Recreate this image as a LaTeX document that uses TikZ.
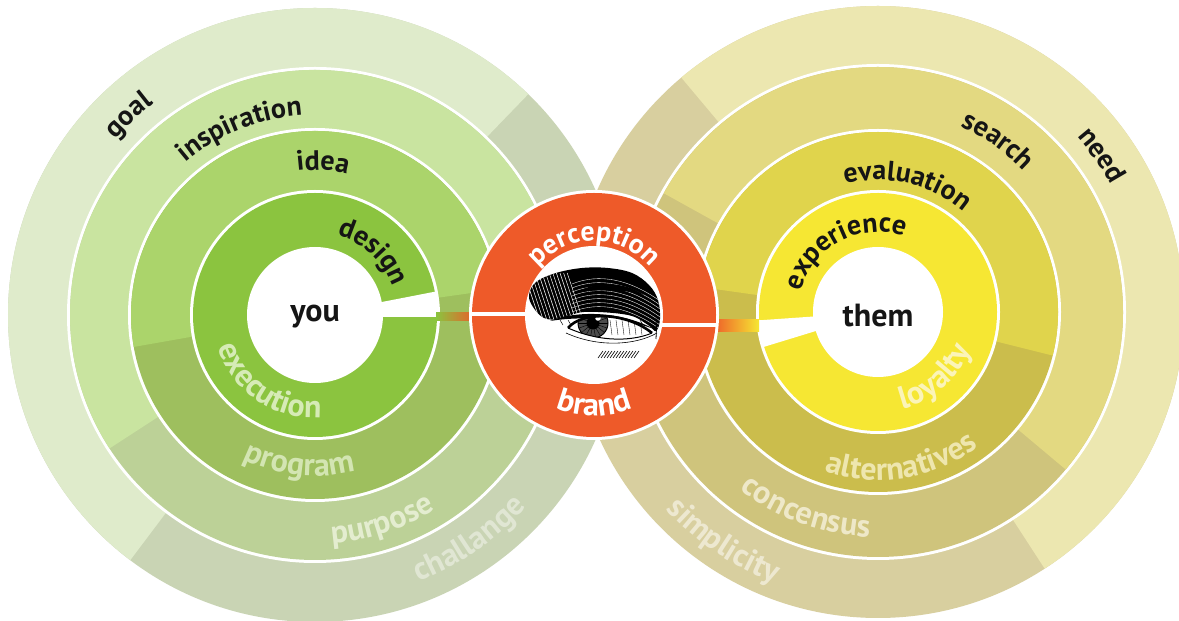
\documentclass[tikz,border=0pt]{standalone}
\usepackage{fontspec}
\setmainfont{PT Sans}
\usetikzlibrary{decorations.text,calc}

% ring colours, green system
\definecolor{gGoalL}{HTML}{DFEBCB}
\definecolor{gGoalD}{HTML}{C9D4B4}
\definecolor{gInspL}{HTML}{C9E4A0}
\definecolor{gInspD}{HTML}{BCD197}
\definecolor{gIdeaL}{HTML}{ABD46B}
\definecolor{gIdeaD}{HTML}{9EBF5E}
\definecolor{gCore}{HTML}{8BC43F}
% ring colours, yellow system
\definecolor{yNeedL}{HTML}{ECE7B0}
\definecolor{yNeedD}{HTML}{D8CF9F}
\definecolor{ySearchL}{HTML}{E3D981}
\definecolor{ySearchD}{HTML}{CFC47C}
\definecolor{yEvalL}{HTML}{E0D44C}
\definecolor{yEvalD}{HTML}{CBBD4C}
\definecolor{yCore}{HTML}{F6E733}
\definecolor{brandOrange}{HTML}{EE5A29}
\definecolor{inkBlack}{HTML}{151515}
% pale label colours on the darker sectors
\definecolor{tExec}{HTML}{D6EBB6}
\definecolor{tProg}{HTML}{D3E5B2}
\definecolor{tPurp}{HTML}{E4EDD0}
\definecolor{tChal}{HTML}{E0E6D3}
\definecolor{tLoy}{HTML}{FBF4B8}
\definecolor{tAlt}{HTML}{EEE6AE}
\definecolor{tCons}{HTML}{EEE8C8}
\definecolor{tSimp}{HTML}{EDE8D0}

\newcommand\topfont{\bfseries\fontsize{28}{28}\selectfont}
\newcommand\botfont{\bfseries\fontsize{32}{32}\selectfont}
% pie slice: colour, centre, start angle, end angle, radius
\newcommand\pieslice[5]{\fill[#1] (#2) -- ++(#3:#5) arc[start angle=#3,end angle=#4,radius=#5] -- cycle;}
% text on the upper side of a circle, read clockwise
\newcommand\toplabel[5]{\path[decorate,decoration={text along path,text align=center,text color=#4,text={|\topfont|#5}}]
  ($(#1)+({#2+80}:#3)$) arc[start angle={#2+80},end angle={#2-80},radius=#3];}
% text on the lower side of a circle, read counter-clockwise
\newcommand\botlabel[5]{\path[decorate,decoration={text along path,text align=center,text color=#4,text={|\botfont|#5}}]
  ($(#1)+({#2-80}:#3)$) arc[start angle={#2-80},end angle={#2+80},radius=#3];}

\begin{document}
\begin{tikzpicture}[x=1pt,y=1pt,
  centre/.style={font=\bfseries\fontsize{32}{32}\selectfont,text=inkBlack,inner sep=0pt}]
\useasboundingbox (0,0) rectangle (1179,621);
\fill[white] (0,0) rectangle (1179,621);

\coordinate (L) at (315,306);
\coordinate (R) at (878,309);
\coordinate (C) at (594,306);

% ---------- green system ----------
\fill[gGoalD] (L) circle[radius=307];
\pieslice{gGoalL}{L}{46}{233}{307}
\fill[white] (L) circle[radius=248];
\fill[gInspD] (L) circle[radius=245];
\pieslice{gInspL}{L}{21}{213}{245}
\fill[white] (L) circle[radius=187];
\fill[gIdeaD] (L) circle[radius=184];
\pieslice{gIdeaL}{L}{8}{190}{184}
\fill[white] (L) circle[radius=125];
\fill[gCore] (L) circle[radius=122];
\fill[white] (L) circle[radius=68];
\pieslice{white}{L}{0}{11}{123}
\fill[white] ($(L)+(60,-2)$) rectangle ($(L)+(124,2.5)$);

% ---------- yellow system ----------
\fill[yNeedD] (R) circle[radius=306];
\pieslice{yNeedL}{R}{-57}{130}{306}
\fill[white] (R) circle[radius=248];
\fill[ySearchD] (R) circle[radius=245];
\pieslice{ySearchL}{R}{-40}{151}{245}
\fill[white] (R) circle[radius=183];
\fill[yEvalD] (R) circle[radius=180];
\pieslice{yEvalL}{R}{-14}{172}{180}
\fill[white] (R) circle[radius=122];
\fill[yCore] (R) circle[radius=119];
\fill[white] (R) circle[radius=65];
\pieslice{white}{R}{184}{197}{120}
\fill[white] ($(R)+(-122,-12)$) rectangle ($(R)+(-55,-8)$);

% ---------- links between the systems ----------
\shade[left color=gCore,right color=brandOrange] ($(L)+(121,-5.5)$) rectangle ($(C)+(-118,2.5)$);
\shade[left color=brandOrange,right color=yCore] ($(C)+(118,-16.5)$) rectangle ($(R)+(-119,-8)$);

% ---------- brand ring ----------
\fill[white] (C) circle[radius=125];
\fill[brandOrange] (C) circle[radius=122];
\fill[white] (C) circle[radius=69];
\fill[white] ($(C)+(-123,2.5)$) rectangle ($(C)+(-60,-1.5)$);
\fill[white] ($(C)+(60,-8)$) rectangle ($(C)+(123,-12)$);

% ---------- engraved eye ----------
\begin{scope}[shift={(C)}]
  \def\browpath{plot[smooth cycle,tension=0.6] coordinates {
    (-65,20) (-58,33) (-38,42) (-12,47) (14,47) (38,42) (55,30) (64,15)
    (66,-4) (62,-16) (54,-10) (34,0) (-10,3) (-34,-4) (-50,-3) (-61,8)}}
  % brow mass
  \fill[black] \browpath;
  % fine white engraving strokes in the brow
  \begin{scope}
    \clip \browpath;
    \foreach \k in {0,...,12}
      \draw[white,line width=0.5pt] (-70+3.6*\k,42) -- (-54+3.6*\k,-6);
    \foreach \k in {0,...,7}
      \draw[white,line width=0.35pt] (-22,{31-4*\k}) .. controls (5,{42-4*\k}) and (35,{36-4*\k}) .. (66,{14-4*\k});
    \fill[black] (-18,22) .. controls (0,34) and (30,34) .. (50,20)
                 .. controls (30,26) and (0,26) .. (-18,22) -- cycle;
  \end{scope}
  % upper lid fold below the brow
  \fill[black] (-44,-6) .. controls (-20,4) and (25,5) .. (60,-14)
               .. controls (25,-1) and (-20,-2) .. (-44,-6) -- cycle;
  \foreach \k in {0,...,10}
    \draw[black,line width=0.45pt] (-34+8*\k,-5) -- (-31+8*\k,-10);
  % eyeball
  \def\eyepath{(-26,-13) .. controls (-12,4) and (32,3) .. (58,-18)
               .. controls (42,-25) and (10,-29) .. (-26,-13) -- cycle}
  \fill[white] \eyepath;
  \begin{scope}
    \clip \eyepath;
    \fill[black!70] (-1,-8) circle[radius=15];
    \foreach \k in {0,...,17}
      \draw[black,line width=0.4pt] (-1,-8) -- ++({20*\k}:15);
    \draw[black,line width=1pt] (-1,-8) circle[radius=15];
    \fill[black] (-1,-8) circle[radius=6.5];
    \fill[white] (4,-3) circle[radius=2.8];
    \foreach \k in {0,...,5}
      \draw[black,line width=0.35pt] (16+6*\k,-5) -- (18+6*\k,-20);
  \end{scope}
  \draw[black,line width=2.6pt] (-26,-13) .. controls (-12,4) and (32,3) .. (58,-18);
  \draw[black,line width=1pt] (-26,-13) .. controls (10,-29) and (42,-25) .. (58,-18);
  \draw[black,line width=0.6pt] (-28,-18) .. controls (5,-33) and (42,-30) .. (63,-18);
  \draw[black,line width=0.8pt] (63,-2) -- (62,-24);
  % lower lashes
  \foreach \k in {0,...,12}
    \draw[black,line width=0.6pt] (4+3*\k,-43) -- (9+3*\k,-36);
\end{scope}

% ---------- centre labels ----------
\node[centre] (you) at ($(L)+(0,-2)$) {you};
\node[centre] (them) at ($(R)+(0,-4)$) {them};

% ---------- green system labels ----------
\toplabel{L}{133}{266}{inkBlack}{goal}
\toplabel{L}{112}{200}{inkBlack}{inspiration}
\toplabel{L}{87}{145}{inkBlack}{idea}
\toplabel{L}{47}{83}{inkBlack}{design}
\botlabel{L}{236}{103}{tExec}{execution}
\botlabel{L}{264}{161}{tProg}{program}
\botlabel{L}{288}{229}{tPurp}{purpose}
\botlabel{L}{304.5}{286}{tChal}{challange}

% ---------- yellow system labels ----------
\toplabel{R}{35}{265}{inkBlack}{need}
\toplabel{R}{55}{203}{inkBlack}{search}
\toplabel{R}{77}{132}{inkBlack}{evaluation}
\toplabel{R}{118}{80}{inkBlack}{experience}
\botlabel{R}{311}{100}{tLoy}{loyalty}
\botlabel{R}{279}{168}{tAlt}{alternatives}
\botlabel{R}{250}{225}{tCons}{concensus}
\botlabel{R}{236}{290}{tSimp}{simplicity}

% ---------- brand ring labels ----------
\toplabel{C}{90}{74}{white}{perception}
\botlabel{C}{270}{101}{white}{brand}
\end{tikzpicture}
\end{document}
